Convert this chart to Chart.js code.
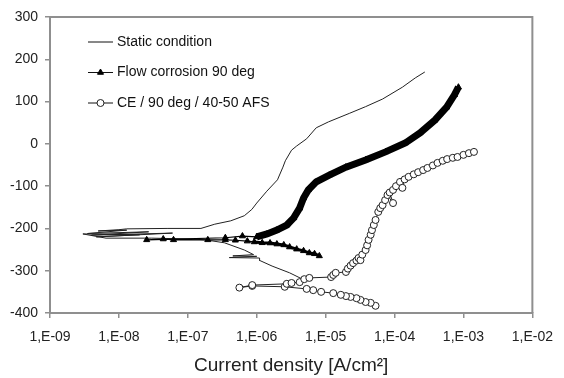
<!DOCTYPE html>
<html>
<head>
<meta charset="utf-8">
<script src="https://cdn.jsdelivr.net/npm/chart.js@4.4.1/dist/chart.umd.min.js"></script>
<style>
html, body { margin: 0; padding: 0; background: #fff; }
</style>
</head>
<body>
<canvas id="polarisation_canvas" width="564" height="378"></canvas>
<script>
// axis ticks
var xTickValues = [1e-9, 1e-8, 1e-7, 1e-6, 1e-5, 1e-4, 1e-3, 1e-2];
var xTickLabels = ['1,E-09', '1,E-08', '1,E-07', '1,E-06', '1,E-05', '1,E-04', '1,E-03', '1,E-02'];
var yTickValues = [-400, -300, -200, -100, 0, 100, 200, 300];

// Static condition  (current A/cm2, potential mV)
var staticCurrent = [4.9e-6, 3.0e-6, 1.67e-6, 1.08e-6, 1.1e-6, 4.0e-7, 1.0e-6, 4.5e-7, 9.0e-7, 6.6e-7,
    3.4e-7, 1.8e-7, 1.1e-7, 3.0e-8, 6.5e-9, 3.0e-9, 2.0e-8, 4.7e-9, 6.0e-8, 4.0e-9,
    2.7e-8, 3.5e-9, 1.3e-8, 5.0e-9, 1.0e-8, 1.3e-8, 5.0e-8, 1.55e-7, 2.46e-7, 4.2e-7,
    6.6e-7, 8.5e-7, 1.0e-6, 1.4e-6, 2.0e-6, 2.4e-6, 2.6e-6, 3.2e-6, 3.8e-6, 5.3e-6,
    7.3e-6, 1.1e-5, 2.2e-5, 3.8e-5, 6.7e-5, 1.3e-4, 2.0e-4, 2.75e-4];
var staticPotential = [-322, -305, -289, -275, -270, -269, -266, -265, -262, -251,
    -234, -227, -225, -223, -223, -213, -215, -220, -211, -216,
    -208, -212, -204, -206, -203, -201, -200, -200, -190, -182,
    -170, -155, -140, -112, -85, -55, -40, -15, -5, 12,
    38, 52, 72, 88, 106, 134, 156, 170];

// Flow corrosion 90 deg
var flowCurrent = [8.1e-6, 6.9e-6, 5.8e-6, 4.78e-6, 3.8e-6, 3.0e-6, 2.47e-6, 1.96e-6, 1.56e-6, 1.2e-6,
    9.2e-7, 7.3e-7, 4.9e-7, 3.5e-7, 1.95e-7, 6.2e-8, 4.4e-8, 2.53e-8, 3.5e-7, 6.2e-7,
    1.0e-6, 1.41e-6, 1.96e-6, 2.73e-6, 3.44e-6, 4.19e-6, 4.78e-6, 5.6e-6, 7.3e-6, 1.13e-5,
    1.97e-5, 3.8e-5, 7.4e-5, 1.43e-4, 2.34e-4, 3.84e-4, 5.7e-4, 7.4e-4, 8.45e-4];
var flowPotential = [-265, -260, -258, -253, -249, -244, -239, -237, -234.5, -234,
    -232, -230, -228, -227, -227, -227, -225, -227, -222, -218,
    -220, -213, -204, -192, -175, -152, -128, -109, -90, -74,
    -55, -38, -19, 2, 26, 56, 87, 116, 134];

// CE / 90 deg / 40-50 AFS
var ceCurrent = [5.3e-5, 4.5e-5, 3.8e-5, 3.2e-5, 2.8e-5, 2.3e-5, 1.97e-5, 1.66e-5, 1.29e-5, 8.6e-6,
    6.6e-6, 5.3e-6, 2.55e-6, 8.6e-7, 5.6e-7, 8.6e-7, 2.73e-6, 3.2e-6, 4.2e-6, 4.9e-6,
    5.8e-6, 1.2e-5, 1.29e-5, 1.4e-5, 1.97e-5, 2.1e-5, 2.3e-5, 2.5e-5, 2.8e-5, 3.0e-5,
    3.2e-5, 3.4e-5, 3.8e-5, 4.0e-5, 4.2e-5, 4.5e-5, 4.7e-5, 5.0e-5, 5.3e-5, 5.8e-5,
    6.2e-5, 6.7e-5, 7.3e-5, 7.9e-5, 9.5e-5, 8.5e-5, 9.5e-5, 1.05e-4, 1.2e-4, 1.3e-4,
    1.4e-4, 1.6e-4, 1.9e-4, 2.2e-4, 2.6e-4, 3.0e-4, 3.6e-4, 4.2e-4, 5.0e-4, 5.8e-4,
    7.0e-4, 8.2e-4, 1.0e-3, 1.2e-3, 1.42e-3];
var cePotential = [-383, -376, -374, -369, -365, -362, -360, -357, -353, -350,
    -346, -343, -338, -336, -340, -334, -331, -329, -327, -320,
    -317, -315, -310, -305, -303, -295, -288, -282, -276, -270,
    -275, -262, -251, -240, -227, -215, -204, -192, -180, -161,
    -152, -145, -133, -121, -140, -115, -109, -100, -90, -104,
    -84, -78, -72, -67, -62, -57, -51, -45, -40, -36,
    -33, -31, -26, -22, -19];

var fontFamily = "'Liberation Sans', Arial, sans-serif";
var axisGrey = '#8f8f8f';

function toPoints(xs, ys) {
    var pts = [];
    for (var i = 0; i < xs.length; i++) {
        pts.push({ x: xs[i], y: ys[i] });
    }
    return pts;
}

// top and right edge of the plot box
var framePlugin = {
    id: 'frame',
    afterDraw: function (chart) {
        var a = chart.chartArea, c = chart.ctx;
        c.save();
        c.strokeStyle = axisGrey;
        c.lineWidth = 2;
        c.beginPath();
        c.moveTo(a.left, a.top);
        c.lineTo(a.right, a.top);
        c.lineTo(a.right, a.bottom);
        c.stroke();
        c.restore();
    }
};

// legend inside the plot: short line, marker, label
var legendPlugin = {
    id: 'innerLegend',
    afterDraw: function (chart) {
        var c = chart.ctx;
        c.save();
        chart.data.datasets.forEach(function (ds, i) {
            var y = 42 + i * 30.5;
            c.strokeStyle = '#111';
            c.lineWidth = 1;
            c.beginPath();
            c.moveTo(88, y);
            c.lineTo(113, y);
            c.stroke();
            if (ds.pointRadius > 0) {
                c.fillStyle = ds.backgroundColor;
                c.strokeStyle = ds.borderColor;
                Chart.helpers.drawPoint(c, { pointStyle: ds.pointStyle, radius: ds.pointRadius, borderWidth: 1, rotation: 0 }, 100.5, y);
            }
            c.fillStyle = '#111';
            c.font = '14px ' + fontFamily;
            c.textBaseline = 'middle';
            c.fillText(ds.label, 117, y);
        });
        c.restore();
    }
};

function polarisation_chart() {
    var ctx = document.getElementById('polarisation_canvas');
    new Chart(ctx, {
        type: 'scatter',
        data: {
            datasets: [{
                label: 'Static condition',
                data: toPoints(staticCurrent, staticPotential),
                showLine: true,
                borderColor: '#222',
                backgroundColor: '#222',
                borderWidth: 1,
                pointRadius: 0,
                order: 3
            }, {
                label: 'Flow corrosion 90 deg',
                data: toPoints(flowCurrent, flowPotential),
                showLine: true,
                borderColor: '#000',
                backgroundColor: '#000',
                borderWidth: 1.2,
                pointStyle: 'triangle',
                pointRadius: 3.5,
                pointBorderWidth: 1,
                segment: {
                    borderWidth: function (s) {
                        if (s.p0DataIndex >= 20) return 7;
                        if (s.p0DataIndex < 10) return 3;
                        return 1.2;
                    }
                },
                order: 2
            }, {
                label: 'CE / 90 deg / 40-50 AFS',
                data: toPoints(ceCurrent, cePotential),
                showLine: true,
                borderColor: '#222',
                backgroundColor: '#fff',
                borderWidth: 1,
                pointStyle: 'circle',
                pointRadius: 3.5,
                pointBorderWidth: 1,
                order: 1
            }]
        },
        options: {
            responsive: false,
            animation: false,
            layout: { padding: { top: 17, right: 25, left: 0, bottom: 0 } },
            plugins: { legend: { display: false }, tooltip: { enabled: false } },
            scales: {
                x: {
                    type: 'logarithmic',
                    min: 1e-9,
                    max: 1e-2,
                    afterBuildTicks: function (s) {
                        s.ticks = xTickValues.map(function (v) { return { value: v }; });
                    },
                    afterFit: function (s) { s.height = 65; },
                    ticks: {
                        autoSkip: false,
                        maxRotation: 0,
                        padding: 11,
                        color: '#222',
                        font: { family: fontFamily, size: 14 },
                        callback: function (v, i) { return xTickLabels[i]; }
                    },
                    grid: { display: true, drawOnChartArea: false, tickLength: 5, color: axisGrey, lineWidth: 1.5 },
                    border: { color: axisGrey, width: 2 },
                    title: {
                        display: true,
                        text: 'Current density [A/cm²]',
                        color: '#222',
                        font: { family: fontFamily, size: 19 },
                        padding: { top: 0, bottom: 1 }
                    }
                },
                y: {
                    min: -400,
                    max: 300,
                    afterBuildTicks: function (s) {
                        s.ticks = yTickValues.map(function (v) { return { value: v }; });
                    },
                    afterFit: function (s) { s.width = 50; },
                    ticks: {
                        padding: 7,
                        color: '#222',
                        font: { family: fontFamily, size: 14 },
                        callback: function (v) { return String(v); }
                    },
                    grid: { display: true, drawOnChartArea: false, tickLength: 5, color: axisGrey, lineWidth: 1.5 },
                    border: { color: axisGrey, width: 2 }
                }
            }
        },
        plugins: [framePlugin, legendPlugin]
    });
}

polarisation_chart();
</script>
</body>
</html>
